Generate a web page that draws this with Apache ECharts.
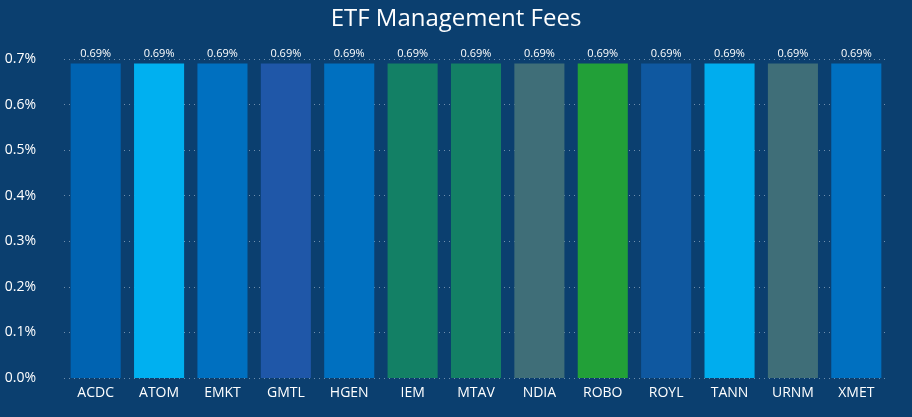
<!DOCTYPE html>
<html><head><meta charset="utf-8">
<script src="https://cdn.jsdelivr.net/npm/echarts@6/dist/echarts.min.js"></script>
<style>html,body{margin:0;background:#0b3f6f}#c{width:912px;height:417px}</style>
</head><body><div id="c"></div>
<script>
var tickers = ['ACDC','ATOM','EMKT','GMTL','HGEN','IEM','MTAV','NDIA','ROBO','ROYL','TANN','URNM','XMET'];
var fees = [0.69,0.69,0.69,0.69,0.69,0.69,0.69,0.69,0.69,0.69,0.69,0.69,0.69];
var colors = ['#0063b1','#00b0f0','#0070c0','#1f57a8','#0070c0','#138065','#138065','#3f6e78','#22a038','#0f58a0','#00adee','#3f6e78','#0070c0'];

var chart = echarts.init(document.getElementById('c'));
chart.setOption({
    backgroundColor: '#0b3f6f',
    title: { text: 'ETF Management Fees', left: 'center', top: 2,
        textStyle: { color: '#fff', fontSize: 24, fontWeight: 'normal', fontFamily: 'Open Sans' } },
    grid: { left: 64, right: 24, top: 59, bottom: 39 },
    xAxis: { type: 'category', data: tickers,
        axisLine: { show: false }, axisTick: { show: false },
        axisLabel: { color: '#fff', fontSize: 14, fontFamily: 'Open Sans', margin: 8 } },
    yAxis: { type: 'value', min: 0, max: 0.7, interval: 0.1,
        axisLabel: { color: '#fff', fontSize: 14, fontFamily: 'Open Sans', margin: 28,
            formatter: function (v) { return v.toFixed(1) + '%'; } },
        splitLine: { lineStyle: { color: '#6f8fae', type: [1, 4] } } },
    series: [{
        type: 'bar', barWidth: '79%',
        data: fees.map(function (v, i) { return { value: v, itemStyle: { color: colors[i] } }; }),
        label: { show: true, position: 'top', color: '#fff', fontSize: 11, fontFamily: 'Open Sans', distance: 4,
            formatter: function (p) { return p.value.toFixed(2) + '%'; } }
    }]
});
</script></body></html>
